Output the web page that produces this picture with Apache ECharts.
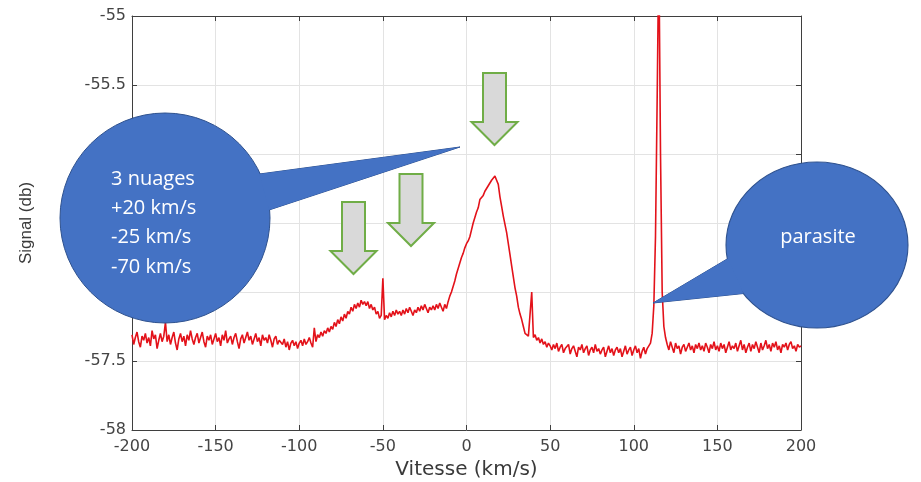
<!DOCTYPE html>
<html>
<head>
<meta charset="utf-8">
<title>Signal (db) / Vitesse (km/s)</title>
<script src="https://cdn.jsdelivr.net/npm/echarts@6/dist/echarts.min.js"></script>
<style>
    html, body { margin: 0; padding: 0; background: #fff; }
    #chart { width: 921px; height: 482px; }
</style>
</head>
<body>
<div id="chart"></div>
<script>
// vitesse de -200 a 200 km/s, un point par km/s
const vitesseDebut = -200;
const vitessePas = 1;
const xTicks = [-200, -150, -100, -50, 0, 50, 100, 150, 200];
const yTicks = [-58, -57.5, -57, -56.5, -56, -55.5, -55];

// signal (db)
const signal = [
    -57.31, -57.38, -57.33, -57.29, -57.36, -57.40, -57.32, -57.35, -57.30, -57.37,
    -57.33, -57.39, -57.28, -57.34, -57.31, -57.41, -57.35, -57.30, -57.36, -57.32,
    -57.22, -57.36, -57.31, -57.38, -57.33, -57.29, -57.37, -57.42, -57.34, -57.30,
    -57.36, -57.32, -57.39, -57.31, -57.35, -57.28, -57.34, -57.38, -57.33, -57.30,
    -57.37, -57.33, -57.29, -57.36, -57.40, -57.32, -57.35, -57.31, -57.38, -57.34,
    -57.30, -57.36, -57.33, -57.39, -57.31, -57.35, -57.28, -57.37, -57.34, -57.32,
    -57.38, -57.33, -57.30, -57.36, -57.41, -57.34, -57.31, -57.37, -57.33, -57.29,
    -57.35, -57.32, -57.38, -57.34, -57.30, -57.36, -57.33, -57.39, -57.31, -57.35,
    -57.33, -57.37, -57.31, -57.35, -57.40, -57.34, -57.32, -57.38, -57.35, -57.36,
    -57.38, -57.34, -57.40, -57.36, -57.42, -57.37, -57.35, -57.39, -57.36, -57.41,
    -57.37, -57.35, -57.39, -57.34, -57.38, -57.36, -57.33, -57.37, -57.40, -57.26,
    -57.36, -57.31, -57.33, -57.29, -57.32, -57.28, -57.30, -57.26, -57.29, -57.25,
    -57.27, -57.22, -57.25, -57.20, -57.23, -57.18, -57.21, -57.16, -57.19, -57.14,
    -57.16, -57.11, -57.14, -57.09, -57.12, -57.08, -57.11, -57.06, -57.09, -57.07,
    -57.10, -57.07, -57.12, -57.09, -57.13, -57.11, -57.16, -57.14, -57.19, -57.17,
    -56.90, -57.20, -57.17, -57.19, -57.15, -57.18, -57.14, -57.17, -57.13, -57.16,
    -57.14, -57.17, -57.13, -57.16, -57.12, -57.15, -57.11, -57.14, -57.17, -57.13,
    -57.15, -57.11, -57.14, -57.10, -57.13, -57.09, -57.12, -57.15, -57.11, -57.13,
    -57.10, -57.13, -57.09, -57.12, -57.08, -57.11, -57.14, -57.09, -57.12, -57.07,
    -57.03, -57.00, -56.96, -56.92, -56.87, -56.83, -56.79, -56.75, -56.72, -56.68,
    -56.65, -56.63, -56.60, -56.55, -56.50, -56.46, -56.42, -56.39, -56.33, -56.32,
    -56.30, -56.27, -56.25, -56.23, -56.21, -56.19, -56.18, -56.16, -56.19, -56.22,
    -56.31, -56.38, -56.45, -56.51, -56.57, -56.65, -56.73, -56.81, -56.89, -56.97,
    -57.03, -57.11, -57.16, -57.20, -57.25, -57.30, -57.29, -57.32, -57.31, -57.00,
    -57.33, -57.31, -57.35, -57.33, -57.37, -57.34, -57.38, -57.36, -57.40, -57.37,
    -57.39, -57.42, -57.38, -57.41, -57.37, -57.43, -57.40, -57.38, -57.44, -57.41,
    -57.42, -57.38, -57.45, -57.41, -57.39, -57.43, -57.47, -57.40, -57.42, -57.38,
    -57.44, -57.41, -57.39, -57.46, -57.42, -57.40, -57.44, -57.38, -57.43, -57.41,
    -57.45, -57.42, -57.40, -57.47, -57.43, -57.39, -57.44, -57.41, -57.46, -57.42,
    -57.40, -57.44, -57.41, -57.47, -57.43, -57.39, -57.45, -57.42, -57.40, -57.46,
    -57.42, -57.39, -57.44, -57.41, -57.48, -57.43, -57.40, -57.45, -57.41, -57.39,
    -57.37, -57.30, -57.10, -56.60, -55.60, -54.50, -56.00, -57.00, -57.25, -57.33,
    -57.38, -57.42, -57.36, -57.40, -57.44, -57.37, -57.41, -57.39, -57.45, -57.40,
    -57.38, -57.43, -57.40, -57.37, -57.42, -57.39, -57.44, -57.38, -57.41, -57.37,
    -57.42, -57.39, -57.43, -57.37, -57.40, -57.44, -57.38, -57.41, -57.36, -57.42,
    -57.39, -57.43, -57.37, -57.41, -57.38, -57.44, -57.40, -57.36, -57.42, -57.39,
    -57.41, -57.37, -57.43, -57.39, -57.35, -57.42, -57.38, -57.44, -57.40, -57.37,
    -57.43, -57.38, -57.41, -57.36, -57.40, -57.44, -57.37, -57.42, -57.39, -57.35,
    -57.41, -57.38, -57.43, -57.37, -57.40, -57.36, -57.42, -57.39, -57.44, -57.38,
    -57.40, -57.37, -57.42, -57.38, -57.36, -57.41, -57.39, -57.43, -57.38, -57.40,
    -57.39
];

// annotations
const bulleTexte = ["3 nuages", "+20 km/s", "-25 km/s", "-70 km/s"];
const parasiteTexte = "parasite";

const points = signal.map((v, i) => [vitesseDebut + i * vitessePas, v]);

const bleu = "#4472c4";
const bleuBord = "#2f528f";
const axe = "#3f3f3f";

// fleches : [centre x, haut]
const fleches = [[494.5, 73], [411, 174], [353.5, 202]];
function fleche(cx, top) {
    const sw = 11.5, sl = 49, hw = 23, hh = 23;
    return {
        type: "polygon",
        z: 100,
        shape: {
            points: [
                [cx - sw, top], [cx + sw, top], [cx + sw, top + sl],
                [cx + hw, top + sl], [cx, top + sl + hh],
                [cx - hw, top + sl], [cx - sw, top + sl]
            ]
        },
        style: { fill: "#d9d9d9", stroke: "#70ad47", lineWidth: 2 }
    };
}

// bulle : cercle (ou ellipse) + pointe, la pointe redessinee sans bord pour cacher la jointure
function bulle(cx, cy, rx, ry, pointe) {
    const bord = { fill: bleu, stroke: bleuBord, lineWidth: 1 };
    return [
        { type: "polygon", z: 100, shape: { points: pointe }, style: bord },
        {
            type: "circle", z: 100, x: cx, y: cy, scaleY: ry / rx,
            shape: { cx: 0, cy: 0, r: rx },
            style: { fill: bleu, stroke: bleuBord, lineWidth: 1 * rx / ry }
        },
        { type: "polygon", z: 100, shape: { points: pointe }, style: { fill: bleu } }
    ];
}

const chart = echarts.init(document.getElementById("chart"));

const graphics = []
    .concat(bulle(165, 218, 105, 105, [[259.5, 174], [460, 147], [269, 210]]))
    .concat(bulle(817, 245, 91, 83, [[728, 258.5], [653, 303], [743.5, 293.5]]));

graphics.push({
    type: "text",
    z: 101,
    x: 818,
    y: 237,
    style: {
        text: parasiteTexte,
        fill: "#fff",
        font: '20px "Open Sans"',
        textAlign: "center",
        textVerticalAlign: "middle"
    }
});
bulleTexte.forEach((t, i) => {
    graphics.push({
        type: "text",
        z: 101,
        x: 111,
        y: 179 + i * 29.3,
        style: {
            text: t,
            fill: "#fff",
            font: '20px "Open Sans"',
            textAlign: "left",
            textVerticalAlign: "middle"
        }
    });
});
fleches.forEach(f => graphics.push(fleche(f[0], f[1])));

chart.setOption({
    animation: false,
    backgroundColor: "#fff",
    grid: {
        left: 132,
        right: 120,
        top: 16,
        bottom: 52,
        containLabel: false,
        outerBoundsMode: "none"
    },
    xAxis: [
        {
            type: "value",
            min: xTicks[0],
            max: xTicks[xTicks.length - 1],
            interval: 50,
            name: "Vitesse (km/s)",
            nameLocation: "middle",
            nameGap: 30,
            nameTextStyle: { fontFamily: "DejaVu Sans", fontSize: 20, color: "#3a3a3a" },
            axisLine: { show: true, onZero: false, lineStyle: { color: axe, width: 1 } },
            axisTick: { show: true, inside: true, length: 5, lineStyle: { color: axe } },
            axisLabel: { fontFamily: "DejaVu Sans", fontSize: 16, color: "#444", margin: 9 },
            splitLine: { show: true, lineStyle: { color: "#e3e3e3", width: 1 } }
        },
        {
            type: "value",
            position: "top",
            min: xTicks[0],
            max: xTicks[xTicks.length - 1],
            interval: 50,
            axisLine: { show: true, onZero: false, lineStyle: { color: axe, width: 1 } },
            axisTick: { show: true, inside: true, length: 5, lineStyle: { color: axe } },
            axisLabel: { show: false },
            splitLine: { show: false }
        }
    ],
    yAxis: [
        {
            type: "value",
            min: yTicks[0],
            max: yTicks[yTicks.length - 1],
            interval: 0.5,
            name: "Signal (db)",
            nameLocation: "middle",
            nameGap: 97,
            nameTextStyle: { fontFamily: "Liberation Sans", fontSize: 17, color: "#3a3a3a" },
            axisLine: { show: true, onZero: false, lineStyle: { color: axe, width: 1 } },
            axisTick: { show: true, inside: true, length: 5, lineStyle: { color: axe } },
            axisLabel: { fontFamily: "DejaVu Sans", fontSize: 16, color: "#444", margin: 6 },
            splitLine: { show: true, lineStyle: { color: "#e3e3e3", width: 1 } }
        },
        {
            type: "value",
            position: "right",
            min: yTicks[0],
            max: yTicks[yTicks.length - 1],
            interval: 0.5,
            axisLine: { show: true, onZero: false, lineStyle: { color: axe, width: 1 } },
            axisTick: { show: true, inside: true, length: 5, lineStyle: { color: axe } },
            axisLabel: { show: false },
            splitLine: { show: false }
        }
    ],
    series: [
        {
            name: "Signal",
            type: "line",
            data: points,
            showSymbol: false,
            clip: true,
            lineStyle: { color: "#e3121a", width: 1.6 },
            z: 5
        }
    ],
    graphic: graphics
});
</script>
</body>
</html>
